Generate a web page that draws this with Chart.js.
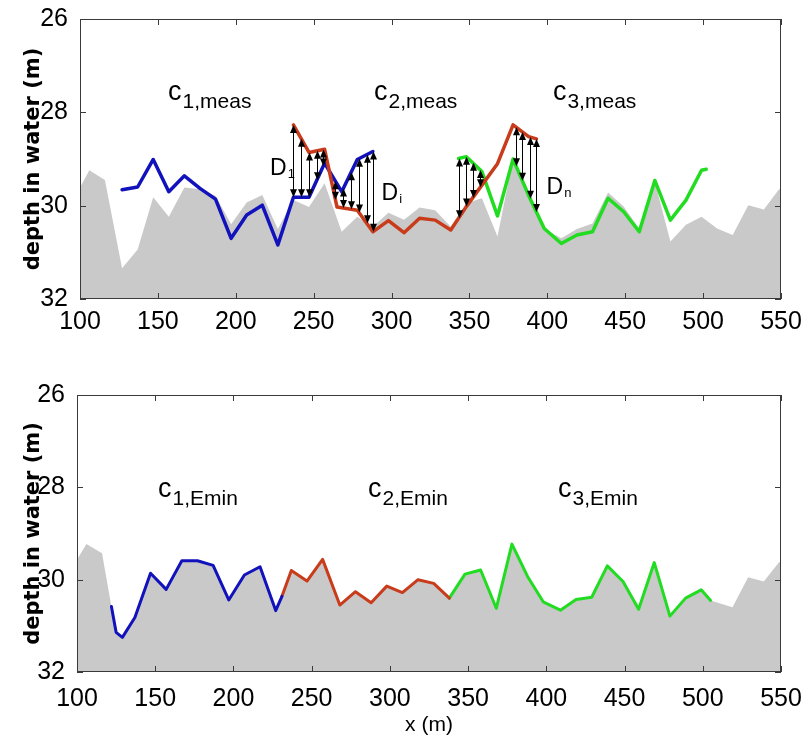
<!DOCTYPE html>
<html>
<head>
<meta charset="utf-8">
<script src="https://cdn.jsdelivr.net/npm/chart.js@4.4.1/dist/chart.umd.min.js"></script>
<style>
  html, body { margin: 0; padding: 0; background: #fff; }
  #wrap { position: relative; width: 812px; height: 736px; }
  .panel { position: absolute; left: 0; width: 812px; height: 368px; }
  #panelTop { top: 0; }
  #panelBottom { top: 368px; }
</style>
</head>
<body>
<div id="wrap">
  <div class="panel" id="panelTop"><canvas id="chartTop"></canvas></div>
  <div class="panel" id="panelBottom"><canvas id="chartBottom"></canvas></div>
</div>
<script>
// true seabed (grey, top panel)
const seabedX = [100, 106, 116, 127, 137, 147, 157, 167, 177, 187, 197, 207, 217, 227, 237, 247, 257, 268, 278, 288, 298, 308, 318, 328, 338, 348, 358, 368, 378, 388, 398, 409, 419, 429, 439, 449, 459, 469, 479, 489, 499, 509, 519, 529, 539, 549, 550];
const seabedDepth = [29.61, 29.24, 29.45, 31.34, 30.94, 29.82, 30.24, 29.61, 29.65, 29.79, 30.40, 29.93, 29.77, 30.50, 29.88, 30.03, 29.52, 30.56, 30.24, 30.45, 30.15, 30.30, 30.04, 30.10, 30.45, 29.95, 29.84, 30.66, 28.99, 29.80, 30.50, 30.70, 30.50, 30.38, 29.72, 30.02, 30.49, 29.49, 30.77, 30.41, 30.24, 30.49, 30.63, 29.99, 30.08, 29.64, 29.72];

// measured curves (top panel)
const c1MeasX = [127, 137, 147, 157, 167, 177, 187, 197, 207, 217, 227, 237, 247, 257, 268, 278, 288];
const c1Meas = [29.66, 29.60, 29.01, 29.70, 29.36, 29.63, 29.86, 30.70, 30.20, 29.99, 30.84, 29.82, 29.82, 29.09, 29.70, 29.01, 28.84];
const c2MeasX = [237, 247, 257, 265, 278, 288, 298, 308, 318, 328, 338, 348, 358, 368, 378, 388, 393];
const c2Meas = [28.27, 28.86, 28.79, 30.03, 30.10, 30.56, 30.32, 30.58, 30.27, 30.31, 30.52, 30.02, 29.56, 29.10, 28.27, 28.52, 28.57];
const c3MeasX = [343, 348, 358, 368, 378, 388, 398, 409, 419, 429, 439, 449, 459, 469, 479, 489, 499, 502];
const c3Meas = [28.99, 28.95, 29.27, 30.22, 29.00, 29.78, 30.49, 30.81, 30.63, 30.56, 29.84, 30.13, 30.56, 29.46, 30.31, 29.88, 29.24, 29.22];

// where the D arrows are drawn
const arrowsD1 = [237, 242, 247, 252, 256, 264, 269, 274, 279, 284, 288];
const arrowsDn = [343, 348, 352, 357, 380, 384, 389, 393];

// minimum-energy curves (bottom panel)
const c1EminX = [122, 125, 129, 137, 147, 157, 167, 177, 187, 197, 207, 217, 227, 231];
const c1Emin = [30.58, 31.14, 31.25, 30.82, 29.86, 30.21, 29.59, 29.59, 29.69, 30.44, 29.90, 29.72, 30.67, 30.36];
const c2EminX = [231, 237, 247, 257, 268, 278, 288, 298, 308, 318, 328, 338];
const c2Emin = [30.36, 29.80, 30.03, 29.56, 30.55, 30.26, 30.50, 30.14, 30.28, 30.00, 30.08, 30.40];
const c3EminX = [338, 348, 358, 368, 378, 388, 398, 409, 419, 429, 439, 449, 459, 469, 479, 489, 499, 505];
const c3Emin = [30.40, 29.88, 29.79, 30.62, 29.23, 29.93, 30.48, 30.66, 30.43, 30.38, 29.70, 30.04, 30.64, 29.63, 30.79, 30.40, 30.22, 30.45];
// grey bed outside the estimated curves (bottom panel)
const bedLeftX = [100, 106, 116];
const bedLeft = [29.57, 29.23, 29.43];
const bedRightX = [519, 529, 539, 549, 550];
const bedRight = [30.60, 29.95, 30.04, 29.61, 29.66];

const xTicks = [100, 150, 200, 250, 300, 350, 400, 450, 500, 550];
const yTicks = [26, 28, 30, 32];

const BLUE = '#1212bc';
const RED = '#c83c1c';
const GREEN = '#22dc22';
const GREY = '#c9c9c9';
const SANS = '"Liberation Sans", Arial, sans-serif';

const pts = function (xs, ys) {
  return xs.map(function (x, i) { return { x: x, y: ys[i] }; });
};

const valueAt = function (xs, ys, x) {
  for (let i = 0; i < xs.length - 1; i++) {
    if (x >= xs[i] && x <= xs[i + 1]) {
      const t = (x - xs[i]) / (xs[i + 1] - xs[i]);
      return ys[i] + t * (ys[i + 1] - ys[i]);
    }
  }
  return null;
};

const curve = function (xs, ys, color, width) {
  return {
    data: pts(xs, ys), borderColor: color, borderWidth: width,
    pointRadius: 0, tension: 0, fill: false, borderJoinStyle: 'round', borderCapStyle: 'round'
  };
};

const bed = function (data) {
  return {
    data: data, borderWidth: 0, borderColor: GREY, backgroundColor: GREY,
    pointRadius: 0, tension: 0, fill: { value: 32 }
  };
};

const drawArrow = function (ctx, px, y1, y2) {
  const top = Math.min(y1, y2), bot = Math.max(y1, y2);
  if (bot - top < 9) return;
  ctx.beginPath();
  ctx.moveTo(px, top + 3);
  ctx.lineTo(px, bot - 3);
  ctx.stroke();
  ctx.beginPath();
  ctx.moveTo(px, top); ctx.lineTo(px - 3.5, top + 8); ctx.lineTo(px + 3.5, top + 8); ctx.closePath();
  ctx.moveTo(px, bot); ctx.lineTo(px - 3.5, bot - 8); ctx.lineTo(px + 3.5, bot - 8); ctx.closePath();
  ctx.fill();
};

const decor = {
  id: 'decor',
  afterDatasetsDraw: function (chart, args, opts) {
    const ctx = chart.ctx;
    const sx = chart.scales.x, sy = chart.scales.y, area = chart.chartArea;
    ctx.save();
    ctx.strokeStyle = '#000';
    ctx.fillStyle = '#000';
    ctx.lineWidth = 1;
    (opts.arrows || []).forEach(function (g) {
      g.at.forEach(function (x) {
        const a = valueAt(g.a[0], g.a[1], x);
        const b = valueAt(g.b[0], g.b[1], x);
        if (a === null || b === null) return;
        drawArrow(ctx, Math.round(sx.getPixelForValue(x)) + 0.5, sy.getPixelForValue(a), sy.getPixelForValue(b));
      });
    });

    // box and inner tick marks
    ctx.strokeStyle = '#3a3a3a';
    ctx.lineWidth = 1;
    ctx.strokeRect(area.left + 0.5, area.top + 0.5, area.right - area.left - 1, area.bottom - area.top - 1);
    ctx.beginPath();
    xTicks.forEach(function (v) {
      const px = Math.round(sx.getPixelForValue(v)) + 0.5;
      ctx.moveTo(px, area.bottom); ctx.lineTo(px, area.bottom - 6);
      ctx.moveTo(px, area.top); ctx.lineTo(px, area.top + 6);
    });
    yTicks.forEach(function (v) {
      const py = Math.round(sy.getPixelForValue(v)) + 0.5;
      ctx.moveTo(area.left, py); ctx.lineTo(area.left + 6, py);
      ctx.moveTo(area.right, py); ctx.lineTo(area.right - 6, py);
    });
    ctx.stroke();

    // text labels with subscripts
    ctx.textBaseline = 'alphabetic';
    ctx.textAlign = 'left';
    ctx.fillStyle = '#000';
    (opts.labels || []).forEach(function (l) {
      const px = sx.getPixelForValue(l.x), py = sy.getPixelForValue(l.y);
      ctx.font = l.size + 'px ' + SANS;
      ctx.fillText(l.text, px, py);
      const w = ctx.measureText(l.text).width;
      ctx.font = l.subSize + 'px ' + SANS;
      ctx.fillText(l.sub, px + w + 1, py + l.drop);
    });
    ctx.restore();
  }
};

const buildOptions = function (cfg) {
  return {
    responsive: true,
    maintainAspectRatio: false,
    animation: false,
    layout: { padding: { top: cfg.top, right: 31, left: 0, bottom: 0 } },
    plugins: { legend: { display: false }, tooltip: { enabled: false }, decor: cfg.decor },
    scales: {
      x: {
        type: 'linear', min: 100, max: 550,
        grid: { display: false }, border: { display: false },
        ticks: { stepSize: 50, padding: cfg.xPad, color: '#000', font: { family: SANS, size: 25, lineHeight: 1 } },
        title: cfg.xTitle
          ? { display: true, text: 'x (m)', color: '#000', padding: 0, font: { family: SANS, size: 21, lineHeight: 1 } }
          : { display: false },
        afterFit: function (s) { s.height = cfg.xHeight; }
      },
      y: {
        type: 'linear', min: 26, max: 32, reverse: true,
        grid: { display: false }, border: { display: false },
        ticks: { stepSize: 2, padding: 4, color: '#000', font: { family: SANS, size: 25, lineHeight: 1 } },
        title: {
          display: true, text: 'depth in water (m)', color: '#000',
          padding: { top: 21, bottom: 0 },
          font: { family: 'DejaVu Sans', size: 21, weight: 'bold', lineHeight: 1.2 }
        },
        afterFit: function (s) { s.width = cfg.yWidth; }
      }
    }
  };
};

const initTop = function () {
  new Chart(document.getElementById('chartTop'), {
    type: 'line',
    data: {
      datasets: [
        curve(c2MeasX, c2Meas, RED, 3.5),
        curve(c1MeasX, c1Meas, BLUE, 3.5),
        curve(c3MeasX, c3Meas, GREEN, 3.5),
        bed(pts(seabedX, seabedDepth))
      ]
    },
    options: buildOptions({
      top: 19, xHeight: 69, yWidth: 80, xTitle: false, xPad: 3,
      decor: {
        arrows: [
          { at: arrowsD1, a: [c1MeasX, c1Meas], b: [c2MeasX, c2Meas] },
          { at: arrowsDn, a: [c2MeasX, c2Meas], b: [c3MeasX, c3Meas] }
        ],
        labels: [
          { text: 'c', sub: '1,meas', x: 156.5, y: 27.74, size: 27, subSize: 21, drop: 8 },
          { text: 'c', sub: '2,meas', x: 288.7, y: 27.74, size: 27, subSize: 21, drop: 8 },
          { text: 'c', sub: '3,meas', x: 403.6, y: 27.74, size: 27, subSize: 21, drop: 8 },
          { text: 'D', sub: '1', x: 222, y: 29.34, size: 23, subSize: 13, drop: 3 },
          { text: 'D', sub: 'i', x: 293.6, y: 29.88, size: 23, subSize: 13, drop: 3 },
          { text: 'D', sub: 'n', x: 399.5, y: 29.75, size: 23, subSize: 13, drop: 3 }
        ]
      }
    }),
    plugins: [decor]
  });
};

const initBottom = function () {
  const bedPoints = pts(bedLeftX, bedLeft)
    .concat(pts(c1EminX, c1Emin), pts(c2EminX, c2Emin), pts(c3EminX, c3Emin), pts(bedRightX, bedRight));
  new Chart(document.getElementById('chartBottom'), {
    type: 'line',
    data: {
      datasets: [
        curve(c1EminX, c1Emin, BLUE, 3),
        curve(c2EminX, c2Emin, RED, 3),
        curve(c3EminX, c3Emin, GREEN, 3),
        bed(bedPoints)
      ]
    },
    options: buildOptions({
      top: 27, xHeight: 64, yWidth: 77, xTitle: true, xPad: 7,
      decor: {
        labels: [
          { text: 'c', sub: '1,Emin', x: 151.8, y: 28.21, size: 27, subSize: 21, drop: 8 },
          { text: 'c', sub: '2,Emin', x: 286, y: 28.21, size: 27, subSize: 21, drop: 8 },
          { text: 'c', sub: '3,Emin', x: 407.5, y: 28.21, size: 27, subSize: 21, drop: 8 }
        ]
      }
    }),
    plugins: [decor]
  });
};

initTop();
initBottom();
</script>
</body>
</html>
